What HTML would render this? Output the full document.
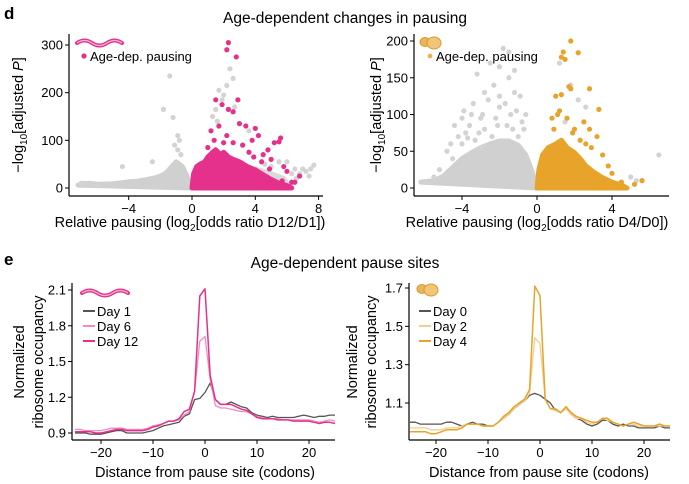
<!DOCTYPE html>
<html><head><meta charset="utf-8">
<style>
html,body{margin:0;padding:0;background:#fff;}
svg{display:block;font-family:"Liberation Sans",Arial,sans-serif;}
</style></head>
<body>
<svg id="fig" width="689" height="484" viewBox="0 0 689 484" xmlns="http://www.w3.org/2000/svg">
<text x="4" y="19" font-size="17" font-weight="bold">d</text>
<text x="345" y="23" font-size="15.5" text-anchor="middle">Age-dependent changes in pausing</text>
<text x="4" y="265" font-size="17" font-weight="bold">e</text>
<text x="345" y="268" font-size="15.5" text-anchor="middle">Age-dependent pause sites</text>
</svg>
<script>
// ---- Data: panel d left (D12/D1) ----
const dL_greyEnvX=[-7.2,-6.5,-6,-5,-4.5,-4,-3.5,-3,-2.5,-2,-1.7,-1.4,-1.2,-1,-0.8,-0.6,-0.4,-0.2,0];
const dL_greyEnvY=[6,10,8,9,11,13,14,17,20,25,30,40,48,55,50,45,30,15,0];
const dL_greyRightEnvX=[2.5,3,4,5,5.8,6.2,2.5];
const dL_greyRightEnvY=[0,35,40,30,20,0,0];
const dL_pinkEnvX=[0,0.1,0.3,0.5,0.8,1,1.3,1.5,1.8,2,2.3,2.6,3,3.5,4,4.5,5,5.5,6,6.3,0];
const dL_pinkEnvY=[0,30,45,50,55,65,75,80,70,75,65,60,55,45,38,28,18,10,5,0,0];
const dL_greyPtsX=[-1.4,-1.8,-1.2,2.0,2.6,1.7,2.4,-0.8,-0.9,-4.4,-2.5,-0.9,6.5,7.7,7.2,6.0,5.5,7.0,2.2,1.5,1.6,-7,-6.8,-6,-1.1,-0.7,5.0,4.6,6.8,1.3,1.9,2.7,3.6,7.4,6.6,6.3,7.5];
const dL_greyPtsY=[235,165,148,195,230,205,250,100,110,45,55,80,40,48,35,55,55,40,215,165,140,10,10,5,90,70,45,50,30,150,185,170,120,25,20,30,40];
const dL_pinkPtsX=[2.3,2.2,2.8,1.5,2.9,1.9,2.3,2.6,1.7,3.0,3.4,4.0,1.2,4.2,2.2,5.6,3.8,5.2,5.5,4.8,1.0,3.2,4.5,5.0,5.8,6.0,6.8,6.5,5.7,6.3,2.6,3.6,4.4,1.4,2.0,3.9,4.9];
const dL_pinkPtsY=[305,290,275,185,185,175,165,160,130,135,130,125,120,110,110,105,100,95,97,80,85,90,70,60,45,35,25,12,15,12,95,75,55,100,95,65,40];
// ---- Data: panel d right (D4/D0) ----
const dR_greyEnvX=[-6.2,-5.5,-5,-4.5,-4,-3.5,-3,-2.5,-2,-1.5,-1,-0.6,-0.3,0];
const dR_greyEnvY=[8,10,16,28,40,48,55,60,64,64,58,45,25,0];
const dR_orgEnvX=[0,0.1,0.3,0.6,1,1.3,1.6,2,2.3,2.6,3,3.5,4,4.5,4.8,0];
const dR_orgEnvY=[0,25,45,55,60,65,55,48,40,30,22,14,8,4,0,0];
const dR_greyPtsX=[-1.8,-1.5,-2.5,-2.0,-1.5,-3.2,-2.3,-1.2,-0.9,-3.5,-4.0,-3.0,-2.0,-2.6,-1.4,-0.6,-4.4,-3.8,-2.8,-1.6,-0.8,-4.0,-3.3,-2.4,-1.0,-4.8,-3.0,-5.5,-5.9,-5.2,-4.5,1.8,2.2,2.6,1.5,6.5,5.0,5.3,1.2,-2.8,-3.4,-1.2,-2.0,-3.9,-4.2,-2.2,-1.7,-2.9,-3.6,-1.1,-0.7,-3.1,-2.1,-1.3,-4.6,-3.7];
const dR_greyPtsY=[190,185,170,165,150,155,140,130,125,100,95,95,110,120,100,100,85,75,80,85,90,60,65,70,70,50,55,15,8,25,40,140,120,110,90,45,15,10,170,130,115,160,125,105,70,95,115,100,85,105,80,75,85,80,60,68];
const dR_orgPtsX=[1.8,1.4,2.2,1.5,1.3,1.7,1.8,2.8,1.3,3.3,1.0,1.2,2.5,2.8,2.0,3.2,2.9,3.5,4.5,5.2,5.6,3.8,4.0,0.8,1.1,2.3,1.6,0.9,1.9,2.6];
const dR_orgPtsY=[200,185,184,175,178,138,135,135,127,107,125,105,90,80,80,70,55,45,8,5,10,30,20,95,100,65,95,80,75,60];
// ---- Data: panel e ----
const codons=[-25,-24,-23,-22,-21,-20,-19,-18,-17,-16,-15,-14,-13,-12,-11,-10,-9,-8,-7,-6,-5,-4,-3,-2,-1,0,1,2,3,4,5,6,7,8,9,10,11,12,13,14,15,16,17,18,19,20,21,22,23,24,25];
const day1=[.90,.90,.90,.89,.89,.89,.90,.91,.92,.92,.90,.90,.90,.90,.91,.92,.94,.96,.97,.98,.99,1.04,1.06,1.18,1.19,1.24,1.32,1.18,1.14,1.14,1.16,1.14,1.12,1.11,1.07,1.05,1.04,1.03,1.04,1.03,1.03,1.03,1.03,1.04,1.05,1.04,1.03,1.04,1.04,1.05,1.05];
const day6=[.93,.93,.92,.92,.92,.92,.93,.94,.94,.94,.93,.93,.93,.93,.94,.96,.97,.98,1.00,1.00,1.01,1.05,1.08,1.25,1.67,1.71,1.35,1.13,1.11,1.11,1.10,1.09,1.08,1.08,1.06,1.04,1.03,1.02,1.02,1.02,1.01,1.01,1.01,1.01,1.01,1.01,1.00,.99,1.00,1.01,1.00];
const day12=[.91,.91,.91,.91,.90,.90,.91,.92,.93,.93,.92,.92,.92,.92,.93,.95,.96,.98,1.00,1.00,1.02,1.08,1.10,1.25,2.05,2.11,1.38,1.18,1.14,1.14,1.14,1.12,1.10,1.09,1.06,1.03,1.02,1.02,1.02,1.01,1.01,1.01,1.00,1.00,1.00,1.00,.99,.98,.99,.99,.98];
const day0=[1.00,1.00,.99,.99,.99,.99,.99,1.00,1.00,.99,.98,.99,1.00,.99,.99,.98,.98,1.00,1.02,1.04,1.07,1.09,1.11,1.14,1.15,1.14,1.12,1.10,1.06,1.05,1.08,1.04,1.02,1.01,.99,.98,.99,1.01,1.01,.99,.98,.99,.98,.98,.97,.97,.97,.97,.98,.97,.97];
const day2=[.97,.97,.97,.97,.96,.96,.96,.97,.97,.97,.98,.99,.99,.99,.98,.98,.98,1.00,1.02,1.04,1.07,1.09,1.11,1.15,1.44,1.41,1.12,1.07,1.06,1.05,1.07,1.04,1.02,1.02,1.00,.99,1.00,1.02,1.01,1.00,.99,.98,.99,.99,.98,.98,.98,.98,.98,.98,.98];
const day4=[.95,.95,.95,.95,.94,.94,.95,.96,.96,.96,.97,.99,.99,.99,.98,.98,.98,1.00,1.03,1.05,1.08,1.10,1.12,1.17,1.71,1.66,1.12,1.07,1.07,1.05,1.08,1.05,1.03,1.02,1.01,1.00,1.00,1.02,1.02,1.00,.99,.98,.99,1.00,.99,.98,.98,.98,.99,.98,.98];
const dL_xticks=[-4,0,4,8], dL_yticks=[0,100,200,300];
const dR_xticks=[-4,0,4], dR_yticks=[0,50,100,150,200];
const eL_yticks=[0.9,1.2,1.5,1.8,2.1], eR_yticks=[1.1,1.3,1.5,1.7], e_xticks=[-20,-10,0,10,20];

const NS='http://www.w3.org/2000/svg';
const svg=document.getElementById('fig');
function mk(tag,attrs,parent){const e=document.createElementNS(NS,tag);for(const k in attrs)e.setAttribute(k,attrs[k]);(parent||svg).appendChild(e);return e;}
function lin(d0,d1,r0,r1){return v=>r0+(v-d0)*(r1-r0)/(d1-d0);}
function fmtTick(v){return v<0?'\u2212'+Math.abs(v):String(v);}

function axes(g,x,y,x0,x1,yTop,yBot,xt,yt,dec){
  const ax=mk('g',{},g);
  
  
  mk('line',{x1:x0,y1:yBot,x2:x1,y2:yBot,stroke:'#000','stroke-width':1.2},ax);
  mk('line',{x1:x0,y1:yTop,x2:x0,y2:yBot,stroke:'#000','stroke-width':1.2},ax);
  xt.forEach(v=>{const px=x(v);
    mk('line',{x1:px,y1:yBot,x2:px,y2:yBot+4,stroke:'#000'},ax);
    const t=mk('text',{x:px,y:yBot+17,'font-size':13,'text-anchor':'middle'},ax);t.textContent=fmtTick(v);
    
    });
  yt.forEach(v=>{const py=y(v);
    mk('line',{x1:x0-4,y1:py,x2:x0,y2:py,stroke:'#000'},ax);
    const t=mk('text',{x:x0-6,y:py+4.5,'font-size':13,'text-anchor':'end'},ax);t.textContent=dec?v.toFixed(1):String(v);
    
    });
}
function envelope(g,xs,ys,x,y,fill){
  const pts=xs.map((v,i)=>x(v).toFixed(1)+','+y(ys[i]).toFixed(1)).join(' ');
  const p=mk('polygon',{points:pts,fill:fill,stroke:fill,'stroke-width':5,'stroke-linejoin':'round'},g);
  
  
}
function dots(g,xs,ys,x,y,fill){
  xs.forEach((v,i)=>{const c=mk('circle',{cx:x(v),cy:y(ys[i]),r:2.6,fill:fill},g);
    
    });
}
function line(g,xs,ys,x,y,col,w,name){
  const d=xs.map((v,i)=>(i?'L':'M')+x(v).toFixed(1)+','+y(ys[i]).toFixed(1)).join('');
  const p=mk('path',{d:d,fill:'none',stroke:col,'stroke-width':w,'stroke-linejoin':'round'},g);
  
  
}
function text(g,x,y,s,size,extra,name){const t=mk('text',Object.assign({x:x,y:y,'font-size':size},extra||{}),g);t.textContent=s;
  
  return t;}
function worm(g,x,y,w){
  const p=mk('path',{d:`M${x},${y} q${w/6},-5 ${w/3},0 t${w/3},0 t${w/3},0`,fill:'none',stroke:'#e5318b','stroke-width':4,'stroke-linecap':'round'},g);
  
  
  mk('path',{d:`M${x},${y} q${w/6},-5 ${w/3},0 t${w/3},0 t${w/3},0`,fill:'none',stroke:'#f7b5d6','stroke-width':1.2},g);
}
function yeast(g,x,y){
  const gg=mk('g',{},g);
  
  
  mk('ellipse',{cx:x,cy:y,rx:5,ry:4.5,fill:'#eab45a',stroke:'#d99a2e','stroke-width':1},gg);
  mk('ellipse',{cx:x+9,cy:y+1,rx:7,ry:6,fill:'#f0c57a',stroke:'#d99a2e','stroke-width':1},gg);
}

// Panel d left
(function(){
  const g=mk('g',{});
  const x=lin(0,4,192,255.3), y=lin(0,300,188,45);
  envelope(g,dL_greyEnvX,dL_greyEnvY,x,y,'#d0d0d0');
  envelope(g,dL_greyRightEnvX,dL_greyRightEnvY,x,y,'#dadada');
  dots(g,dL_greyPtsX,dL_greyPtsY,x,y,'#d3d3d3');
  envelope(g,dL_pinkEnvX,dL_pinkEnvY,x,y,'#e5318b');
  dots(g,dL_pinkPtsX,dL_pinkPtsY,x,y,'#e5318b');
  axes(g,x,y,69,323,34,196,dL_xticks,dL_yticks,false);
  worm(g,77,43,45);
  const c=mk('circle',{cx:84,cy:56,r:2.6,fill:'#e5318b'},g);
  text(g,90,61,'Age-dep. pausing',13,{},'legend-entry');
  const t=text(g,190,227,'',14.5,{'text-anchor':'middle'},'x-axis-title');
  t.innerHTML='Relative pausing (log<tspan font-size="10" dy="4">2</tspan><tspan dy="-4">[odds ratio D12/D1])</tspan>';
  const ty=text(g,0,0,'',14.5,{'text-anchor':'middle',transform:'translate(23,115) rotate(-90)'},'y-axis-title');
  ty.innerHTML='\u2212log<tspan font-size="10" dy="4">10</tspan><tspan dy="-4">[adjusted </tspan><tspan font-style="italic">P</tspan>]';
})();
// Panel d right
(function(){
  const g=mk('g',{});
  const x=lin(0,4,537,612), y=lin(0,200,188,41);
  envelope(g,dR_greyEnvX,dR_greyEnvY,x,y,'#d0d0d0');
  dots(g,dR_greyPtsX,dR_greyPtsY,x,y,'#d3d3d3');
  envelope(g,dR_orgEnvX,dR_orgEnvY,x,y,'#e8a32b');
  dots(g,dR_orgPtsX,dR_orgPtsY,x,y,'#e8a32b');
  axes(g,x,y,414,669,34,196,dR_xticks,dR_yticks,false);
  yeast(g,425,42);
  const c=mk('circle',{cx:430,cy:56,r:2.4,fill:'#eab45a'},g);
  text(g,436,61,'Age-dep. pausing',13,{},'legend-entry');
  const t=text(g,537,227,'',14.5,{'text-anchor':'middle'},'x-axis-title');
  t.innerHTML='Relative pausing (log<tspan font-size="10" dy="4">2</tspan><tspan dy="-4">[odds ratio D4/D0])</tspan>';
  const ty=text(g,0,0,'',14.5,{'text-anchor':'middle',transform:'translate(381,115) rotate(-90)'},'y-axis-title');
  ty.innerHTML='\u2212log<tspan font-size="10" dy="4">10</tspan><tspan dy="-4">[adjusted </tspan><tspan font-style="italic">P</tspan>]';
})();
// Panel e left
(function(){
  const g=mk('g',{});
  const x=lin(0,10,205,257), y=lin(0.9,2.1,433,290);
  line(g,codons,day1,x,y,'#555',1.3,'line-day1');
  line(g,codons,day6,x,y,'#f08cbf',1.3,'line-day6');
  line(g,codons,day12,x,y,'#e5318b',1.5,'line-day12');
  axes(g,x,y,72,335,283,440,e_xticks,eL_yticks,true);
  worm(g,82,293,46);
  [['Day 1','#555'],['Day 6','#f08cbf'],['Day 12','#e5318b']].forEach((d,i)=>{
    const yy=311+i*15;
    const l=mk('line',{x1:83,y1:yy,x2:95,y2:yy,stroke:d[1],'stroke-width':2},g);
    text(g,97,yy+5,d[0],13,{},'legend-entry');
  });
  text(g,205,477,'Distance from pause site (codons)',14.5,{'text-anchor':'middle'},'x-axis-title');
  text(g,0,0,'Normalized',14.5,{'text-anchor':'middle',transform:'translate(24,362) rotate(-90)'},'y-axis-title');
  text(g,0,0,'ribosome occupancy',14.5,{'text-anchor':'middle',transform:'translate(43,362) rotate(-90)'},'y-axis-title-line2');
})();
// Panel e right
(function(){
  const g=mk('g',{});
  const x=lin(0,10,540,592), y=lin(1.1,1.7,403,288);
  line(g,codons,day0,x,y,'#555',1.3,'line-day0');
  line(g,codons,day2,x,y,'#f3cf8c',1.3,'line-day2');
  line(g,codons,day4,x,y,'#e8a32b',1.5,'line-day4');
  axes(g,x,y,409,670,283,440,e_xticks,eR_yticks,true);
  yeast(g,422,289);
  [['Day 0','#555'],['Day 2','#f3cf8c'],['Day 4','#e8a32b']].forEach((d,i)=>{
    const yy=311+i*15;
    const l=mk('line',{x1:419,y1:yy,x2:431,y2:yy,stroke:d[1],'stroke-width':2},g);
    text(g,433,yy+5,d[0],13,{},'legend-entry');
  });
  text(g,539,477,'Distance from pause site (codons)',14.5,{'text-anchor':'middle'},'x-axis-title');
  text(g,0,0,'Normalized',14.5,{'text-anchor':'middle',transform:'translate(357,362) rotate(-90)'},'y-axis-title');
  text(g,0,0,'ribosome occupancy',14.5,{'text-anchor':'middle',transform:'translate(376,362) rotate(-90)'},'y-axis-title-line2');
})();
</script>
</body></html>
